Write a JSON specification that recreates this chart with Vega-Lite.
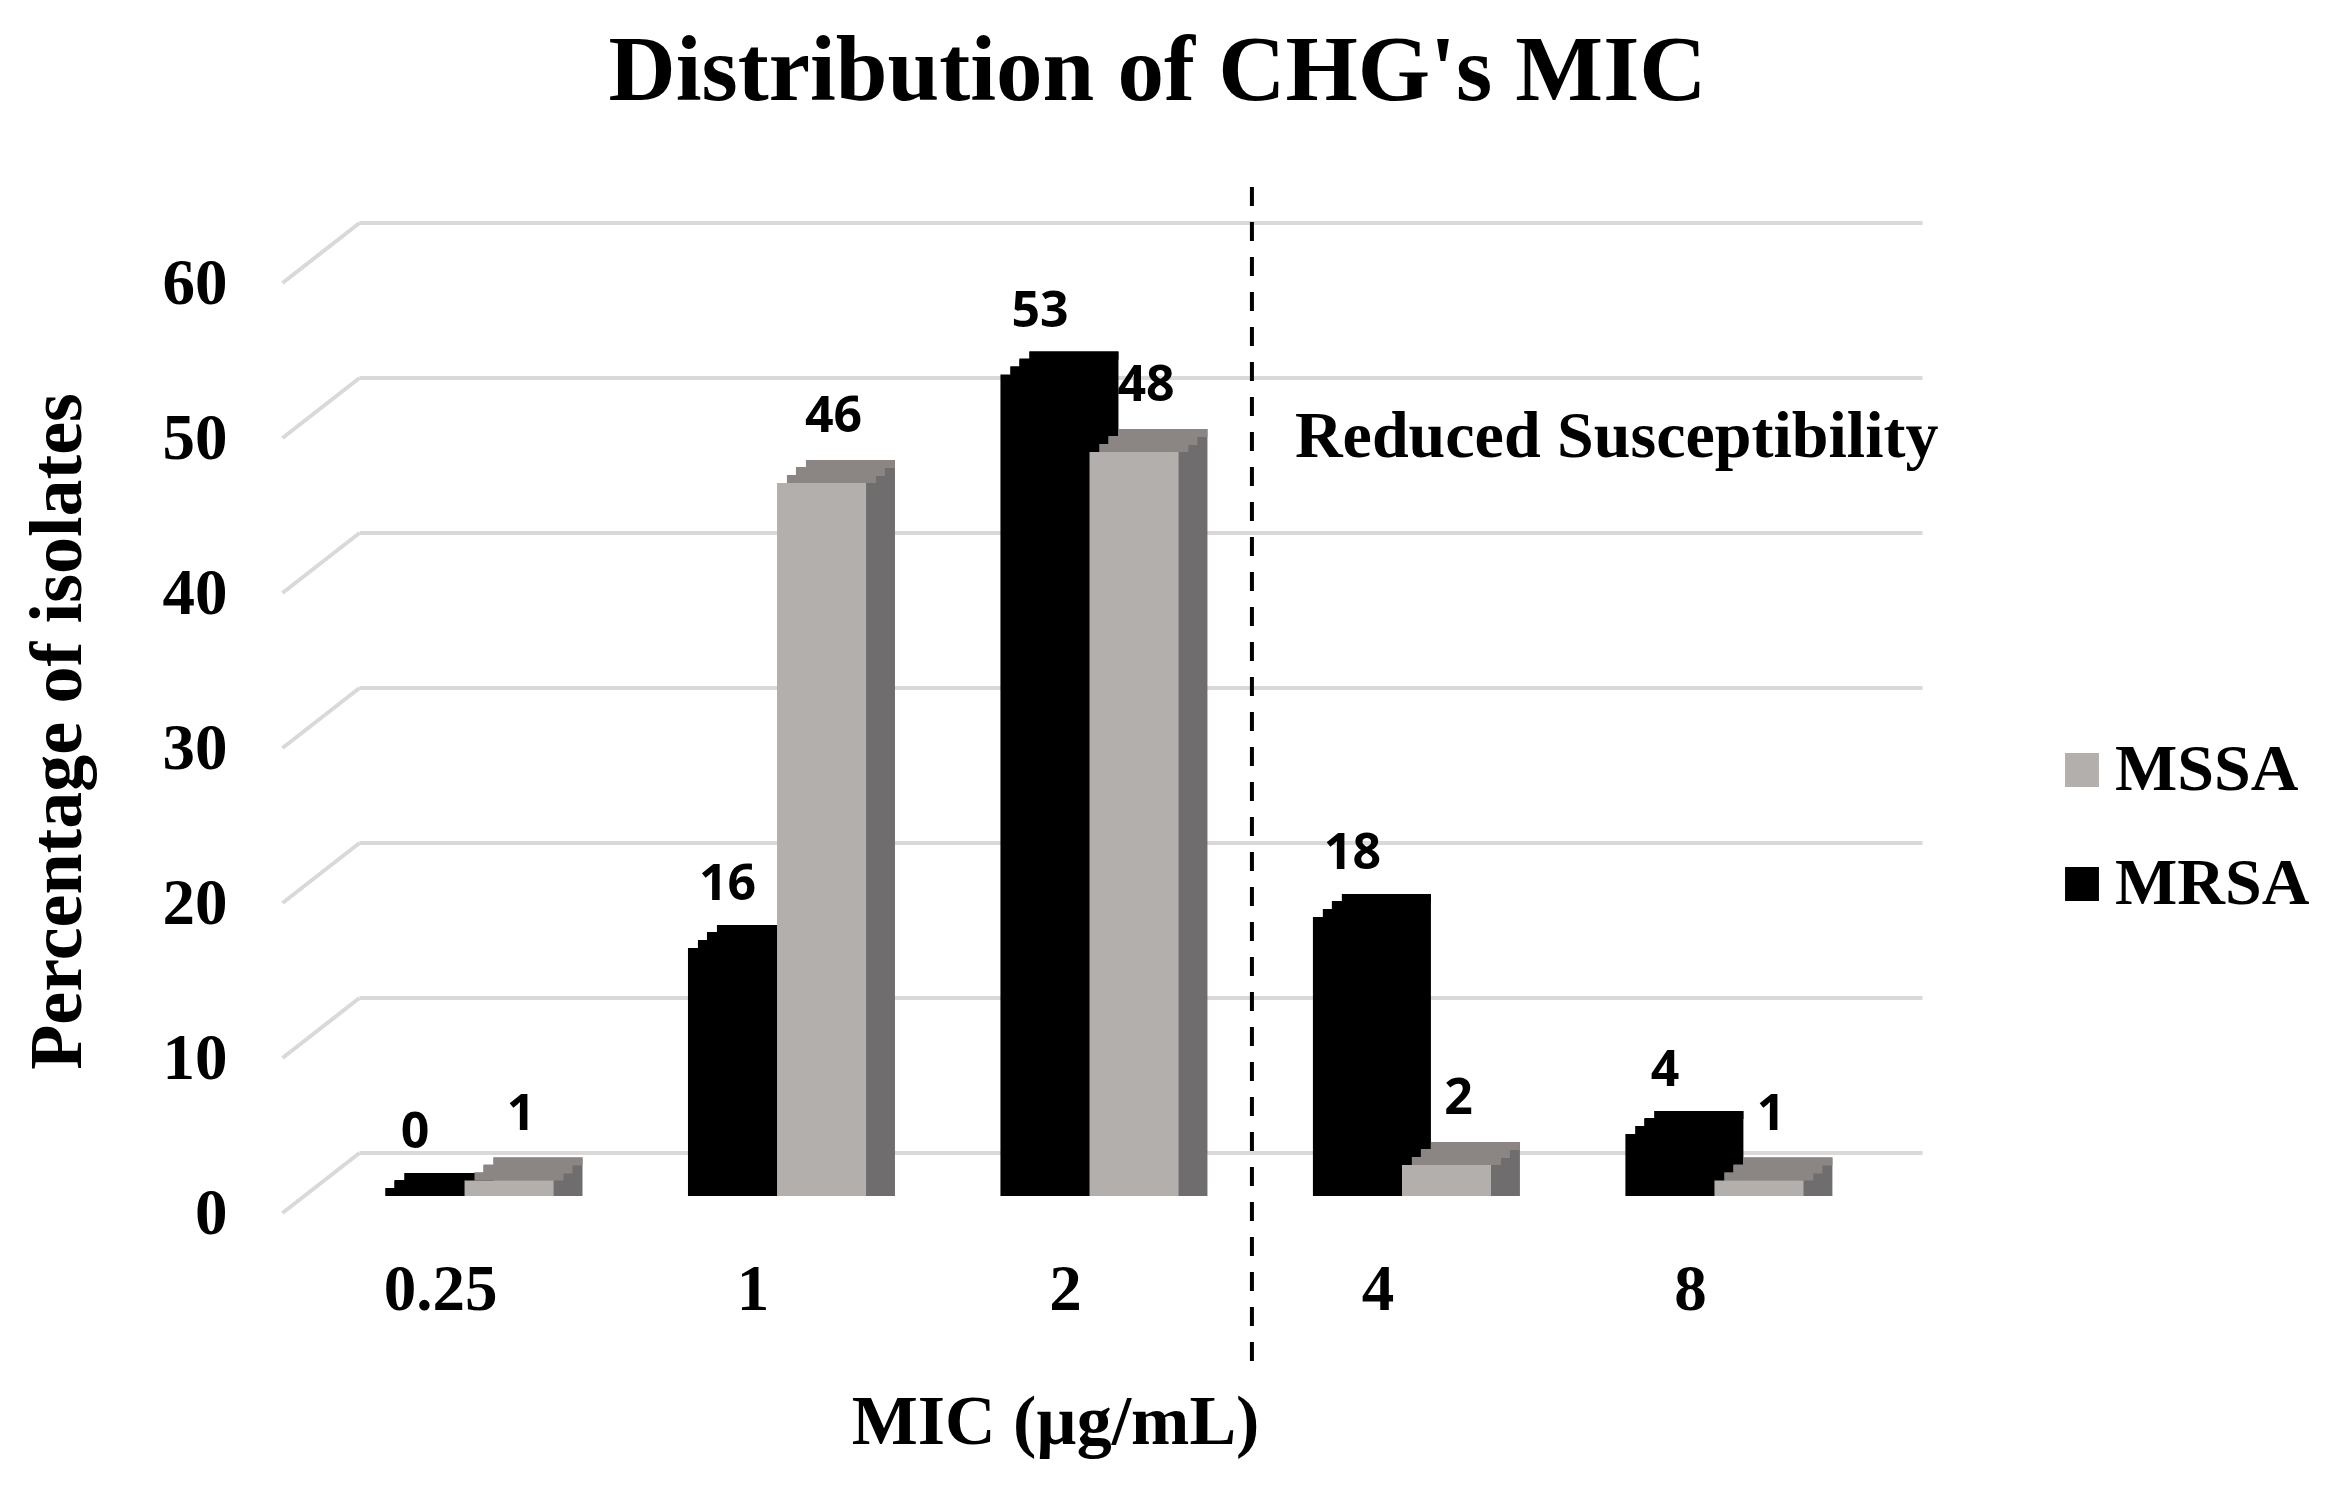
{
  "$schema": "https://vega.github.io/schema/vega-lite/v6.json",
  "width": 1563,
  "height": 930,
  "autosize": {"type": "none"},
  "padding": {"left": 308, "top": 266, "right": 455, "bottom": 289},
  "background": "white",
  "title": {
    "text": "Distribution of CHG's MIC",
    "font": "Liberation Serif",
    "fontSize": 93,
    "fontWeight": "bold",
    "color": "#000000",
    "anchor": "middle",
    "baseline": "alphabetic",
    "offset": -8,
    "dx": 68
  },
  "datasets": {
    "mic": [
      {"mic": "0.25", "series": "MRSA", "pct": 0},
      {"mic": "0.25", "series": "MSSA", "pct": 1},
      {"mic": "1", "series": "MRSA", "pct": 16},
      {"mic": "1", "series": "MSSA", "pct": 46},
      {"mic": "2", "series": "MRSA", "pct": 53},
      {"mic": "2", "series": "MSSA", "pct": 48},
      {"mic": "4", "series": "MRSA", "pct": 18},
      {"mic": "4", "series": "MSSA", "pct": 2},
      {"mic": "8", "series": "MRSA", "pct": 4},
      {"mic": "8", "series": "MSSA", "pct": 1}
    ],
    "grid": [
      {"v": 0}, {"v": 10}, {"v": 20}, {"v": 30}, {"v": 40}, {"v": 50}, {"v": 60}
    ]
  },
  "data": {"name": "mic"},
  "resolve": {"scale": {"color": "independent", "xOffset": "independent"}},
  "layer": [
    {
      "data": {"name": "grid"},
      "mark": {"type": "rule", "color": "#d9d9d9", "strokeWidth": 4, "yOffset": -43, "xOffset": -16, "x2Offset": 119},
      "encoding": {
        "x": {
          "datum": "0.25",
          "bandPosition": 0,
          "type": "nominal",
          "scale": {"domain": ["0.25", "1", "2", "4", "8"], "paddingInner": 0.43, "paddingOuter": 0.216}
        },
        "x2": {"datum": "8", "bandPosition": 1},
        "y": {
          "field": "v",
          "type": "quantitative",
          "scale": {"domain": [0, 60]},
          "axis": {
            "title": "Percentage of isolates",
            "values": [0, 10, 20, 30, 40, 50, 60],
            "grid": false,
            "ticks": false,
            "domain": false,
            "labelFont": "Liberation Serif",
            "labelFontSize": 65,
            "labelFontWeight": "bold",
            "labelColor": "#000000",
            "labelPadding": 81,
            "labelOffset": 17,
            "titleFont": "Liberation Serif",
            "titleFontSize": 74,
            "titleFontWeight": "bold",
            "titleColor": "#000000",
            "titlePadding": 66
          }
        }
      }
    },
    {
      "data": {"name": "grid"},
      "mark": {"type": "rule", "color": "#d9d9d9", "strokeWidth": 4, "xOffset": -93, "x2Offset": -16, "yOffset": 17, "y2Offset": -43},
      "encoding": {
        "x": {"datum": "0.25", "bandPosition": 0},
        "x2": {"datum": "0.25", "bandPosition": 0},
        "y": {"field": "v", "type": "quantitative"},
        "y2": {"field": "v"}
      }
    },
    {
      "mark": {"type": "bar", "yOffset": -23, "y2Offset": -23},
      "encoding": {
        "x": {"field": "mic", "type": "nominal"},
        "xOffset": {"field": "series", "scale": {"domain": ["MRSA", "MSSA"], "range": [29, 207]}},
        "y": {"field": "pct", "type": "quantitative", "stack": null},
        "color": {"field": "series", "scale": {"domain": ["MSSA", "MRSA"], "range": ["#6f6d6e", "#000000"]}, "legend": null}
      }
    },
    {
      "mark": {"type": "bar", "yOffset": -15, "y2Offset": -15},
      "encoding": {
        "x": {"field": "mic", "type": "nominal"},
        "xOffset": {"field": "series", "scale": {"domain": ["MRSA", "MSSA"], "range": [19, 197]}},
        "y": {"field": "pct", "type": "quantitative", "stack": null},
        "color": {"field": "series", "scale": {"domain": ["MSSA", "MRSA"], "range": ["#6f6d6e", "#000000"]}, "legend": null}
      }
    },
    {
      "mark": {"type": "bar", "yOffset": -8, "y2Offset": -8},
      "encoding": {
        "x": {"field": "mic", "type": "nominal"},
        "xOffset": {"field": "series", "scale": {"domain": ["MRSA", "MSSA"], "range": [10, 188]}},
        "y": {"field": "pct", "type": "quantitative", "stack": null},
        "color": {"field": "series", "scale": {"domain": ["MSSA", "MRSA"], "range": ["#6f6d6e", "#000000"]}, "legend": null}
      }
    },
    {
      "mark": {"type": "bar", "yOffset": -23, "y2Offset": -15},
      "encoding": {
        "x": {"field": "mic", "type": "nominal"},
        "xOffset": {"field": "series", "scale": {"domain": ["MRSA", "MSSA"], "range": [29, 207]}},
        "y": {"field": "pct", "type": "quantitative", "stack": null},
        "y2": {"field": "pct"},
        "color": {"field": "series", "scale": {"domain": ["MSSA", "MRSA"], "range": ["#8b8683", "#000000"]}, "legend": null}
      }
    },
    {
      "mark": {"type": "bar", "yOffset": -16, "y2Offset": -7},
      "encoding": {
        "x": {"field": "mic", "type": "nominal"},
        "xOffset": {"field": "series", "scale": {"domain": ["MRSA", "MSSA"], "range": [19, 197]}},
        "y": {"field": "pct", "type": "quantitative", "stack": null},
        "y2": {"field": "pct"},
        "color": {"field": "series", "scale": {"domain": ["MSSA", "MRSA"], "range": ["#8b8683", "#000000"]}, "legend": null}
      }
    },
    {
      "mark": {"type": "bar", "yOffset": -8, "y2Offset": 0},
      "encoding": {
        "x": {"field": "mic", "type": "nominal"},
        "xOffset": {"field": "series", "scale": {"domain": ["MRSA", "MSSA"], "range": [10, 188]}},
        "y": {"field": "pct", "type": "quantitative", "stack": null},
        "y2": {"field": "pct"},
        "color": {"field": "series", "scale": {"domain": ["MSSA", "MRSA"], "range": ["#8b8683", "#000000"]}, "legend": null}
      }
    },
    {
      "mark": {"type": "bar"},
      "encoding": {
        "x": {
          "field": "mic",
          "type": "nominal",
          "axis": {
            "title": "MIC (µg/mL)",
            "labelAngle": 0,
            "labelAlign": "center",
            "labelFont": "Liberation Serif",
            "labelFontSize": 65,
            "labelFontWeight": "bold",
            "labelColor": "#000000",
            "labelOffset": -24,
            "labelPadding": 93,
            "ticks": false,
            "domain": false,
            "titleFont": "Liberation Serif",
            "titleFontSize": 70,
            "titleFontWeight": "bold",
            "titleColor": "#000000",
            "titlePadding": 66,
            "titleX": 747
          }
        },
        "xOffset": {"field": "series", "scale": {"domain": ["MRSA", "MSSA"]}},
        "y": {"field": "pct", "type": "quantitative", "stack": null},
        "color": {
          "field": "series",
          "scale": {"domain": ["MSSA", "MRSA"], "range": ["#b3afac", "#000000"]},
          "legend": {
            "title": null,
            "orient": "none",
            "legendX": 1741,
            "legendY": 471,
            "symbolType": "square",
            "symbolSize": 1150,
            "symbolStrokeWidth": 0,
            "labelFont": "Liberation Serif",
            "labelFontSize": 66,
            "labelFontWeight": "bold",
            "labelColor": "#000000",
            "labelOffset": 0,
            "labelLimit": 500,
            "rowPadding": 48
          }
        }
      }
    },
    {
      "transform": [{"filter": "datum.series === 'MRSA'"}],
      "mark": {"type": "text", "font": "Open Sans", "fontWeight": "bold", "fontSize": 50, "baseline": "middle", "dy": -63, "dx": -5, "color": "#000000"},
      "encoding": {
        "x": {"field": "mic", "type": "nominal"},
        "xOffset": {"field": "series", "scale": {"domain": ["MRSA", "MSSA"]}},
        "y": {"field": "pct", "type": "quantitative", "stack": null},
        "text": {"field": "pct", "type": "quantitative"}
      }
    },
    {
      "transform": [{"filter": "datum.series === 'MSSA'"}],
      "mark": {"type": "text", "font": "Open Sans", "fontWeight": "bold", "fontSize": 50, "baseline": "middle", "dy": -66, "dx": 12, "color": "#000000"},
      "encoding": {
        "x": {"field": "mic", "type": "nominal"},
        "xOffset": {"field": "series", "scale": {"domain": ["MRSA", "MSSA"]}},
        "y": {"field": "pct", "type": "quantitative", "stack": null},
        "text": {"field": "pct", "type": "quantitative"}
      }
    },
    {
      "data": {"values": [{"note": "x"}]},
      "mark": {"type": "rule", "color": "#000000", "strokeWidth": 4, "strokeDash": [19, 16], "xOffset": -61},
      "encoding": {
        "x": {"datum": "4", "bandPosition": 0},
        "y": {"datum": 65.1},
        "y2": {"datum": -11}
      }
    },
    {
      "data": {"values": [{"label": "Reduced Susceptibility"}]},
      "mark": {"type": "text", "font": "Liberation Serif", "fontSize": 66, "fontWeight": "bold", "align": "left", "baseline": "alphabetic", "dx": -18, "color": "#000000"},
      "encoding": {
        "x": {"datum": "4", "bandPosition": 0},
        "y": {"datum": 47.7},
        "text": {"field": "label"}
      }
    }
  ],
  "config": {"view": {"stroke": null}}
}
